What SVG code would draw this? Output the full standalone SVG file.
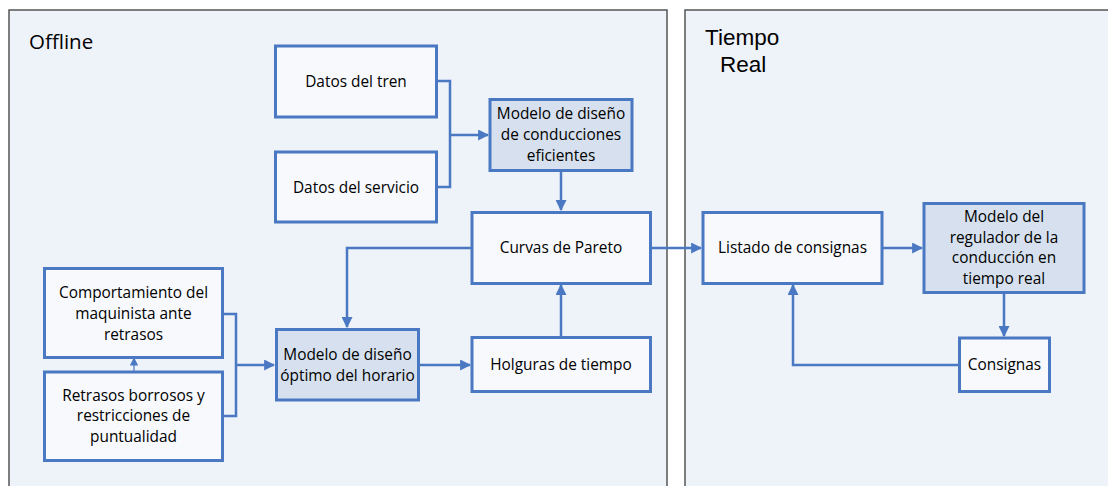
<svg xmlns="http://www.w3.org/2000/svg" width="1108" height="486" viewBox="0 0 1108 486">
<defs>
<marker id="ah" viewBox="0 0 10 10" refX="9" refY="5" markerWidth="4.4" markerHeight="4.4" orient="auto" markerUnits="strokeWidth">
<path d="M0,0 L10,5 L0,10 z" fill="#4a78c2"/>
</marker>
<marker id="ahs" viewBox="0 0 10 10" refX="9" refY="5" markerWidth="7" markerHeight="7" orient="auto" markerUnits="strokeWidth">
<path d="M0,0 L10,5 L0,10 z" fill="#4a78c2"/>
</marker>
</defs>
<style>
.panel{fill:#eef2f9;stroke:#555;stroke-width:1.5}
.title{font-family:"Open Sans","Liberation Sans",sans-serif;font-size:20.5px;fill:#000}
.title2{font-family:"Liberation Sans",Arial,sans-serif;font-size:22.5px;fill:#000}
.box{fill:#f7f9fd;stroke:#4a78c2;stroke-width:3}
.dark{fill:#d6e0ee;stroke:#4a78c2;stroke-width:3}
.t{font-family:"Open Sans","Noto Sans",sans-serif;font-size:15.4px;fill:#000;text-anchor:middle}
.c{fill:none;stroke:#4a78c2;stroke-width:2.5}
.cs{fill:none;stroke:#4a78c2;stroke-width:1.2}
</style>
<rect width="1108" height="486" fill="#fff"/>
<g id="panel-offline">
<rect class="panel" x="9" y="10" width="658" height="490"/>
<text class="title" x="29" y="49">Offline</text>
</g>
<g id="panel-tiempo-real">
<rect class="panel" x="685" y="10" width="440" height="490"/>
<text class="title2" x="705" y="45">Tiempo</text>
<text class="title2" x="720" y="72">Real</text>
</g>
<g id="connectors">
<path class="c" d="M436,81 H450 V187 H436 M450,135 H488" marker-end="url(#ah)"/>
<path class="c" d="M561,171 V210" marker-end="url(#ah)"/>
<path class="c" d="M472,248 H347 V327" marker-end="url(#ah)"/>
<path class="c" d="M650,248 H701" marker-end="url(#ah)"/>
<path class="c" d="M222,314 H236 V416 H222 M236,365 H274" marker-end="url(#ah)"/>
<path class="cs" d="M134,372 V358" marker-end="url(#ahs)"/>
<path class="c" d="M419,365 H470" marker-end="url(#ah)"/>
<path class="c" d="M561,337 V285" marker-end="url(#ah)"/>
<path class="c" d="M882,248 H922" marker-end="url(#ah)"/>
<path class="c" d="M1004,292 V336" marker-end="url(#ah)"/>
<path class="c" d="M959,365 H793 V285" marker-end="url(#ah)"/>
</g>
<g id="datos-tren">
<rect class="box" x="275.5" y="46" width="161" height="71"/>
<text class="t" x="356" y="86.5">Datos del tren</text>
</g>
<g id="datos-servicio">
<rect class="box" x="275.5" y="152" width="161" height="70"/>
<text class="t" x="356" y="192.5">Datos del servicio</text>
</g>
<g id="modelo-conducciones">
<rect class="dark" x="490" y="99.5" width="142" height="71"/>
<text class="t" x="561" y="119">Modelo de diseño</text>
<text class="t" x="561" y="140">de conducciones</text>
<text class="t" x="561" y="161">eficientes</text>
</g>
<g id="curvas-pareto">
<rect class="box" x="472" y="212.5" width="178.5" height="71"/>
<text class="t" x="561" y="253">Curvas de Pareto</text>
</g>
<g id="holguras">
<rect class="box" x="472" y="337.5" width="178.5" height="54"/>
<text class="t" x="561" y="370">Holguras de tiempo</text>
</g>
<g id="comportamiento">
<rect class="box" x="44.5" y="268.5" width="178" height="89"/>
<text class="t" x="133.5" y="298">Comportamiento del</text>
<text class="t" x="133.5" y="319">maquinista ante</text>
<text class="t" x="133.5" y="340">retrasos</text>
</g>
<g id="retrasos">
<rect class="box" x="44.5" y="372" width="178" height="88.5"/>
<text class="t" x="133.5" y="400.5">Retrasos borrosos y</text>
<text class="t" x="133.5" y="421">restricciones de</text>
<text class="t" x="133.5" y="442">puntualidad</text>
</g>
<g id="modelo-horario">
<rect class="dark" x="276.5" y="329.5" width="142" height="70.5"/>
<text class="t" x="347.5" y="359.5">Modelo de diseño</text>
<text class="t" x="347.5" y="380.5">óptimo del horario</text>
</g>
<g id="listado">
<rect class="box" x="703" y="212.5" width="179" height="71"/>
<text class="t" x="792.5" y="253">Listado de consignas</text>
</g>
<g id="regulador">
<rect class="dark" x="924" y="203.5" width="160" height="89"/>
<text class="t" x="1004" y="222">Modelo del</text>
<text class="t" x="1004" y="243">regulador de la</text>
<text class="t" x="1004" y="263">conducción en</text>
<text class="t" x="1004" y="284">tiempo real</text>
</g>
<g id="consignas">
<rect class="box" x="959.5" y="338" width="90" height="53.5"/>
<text class="t" x="1004.5" y="370">Consignas</text>
</g>
</svg>
